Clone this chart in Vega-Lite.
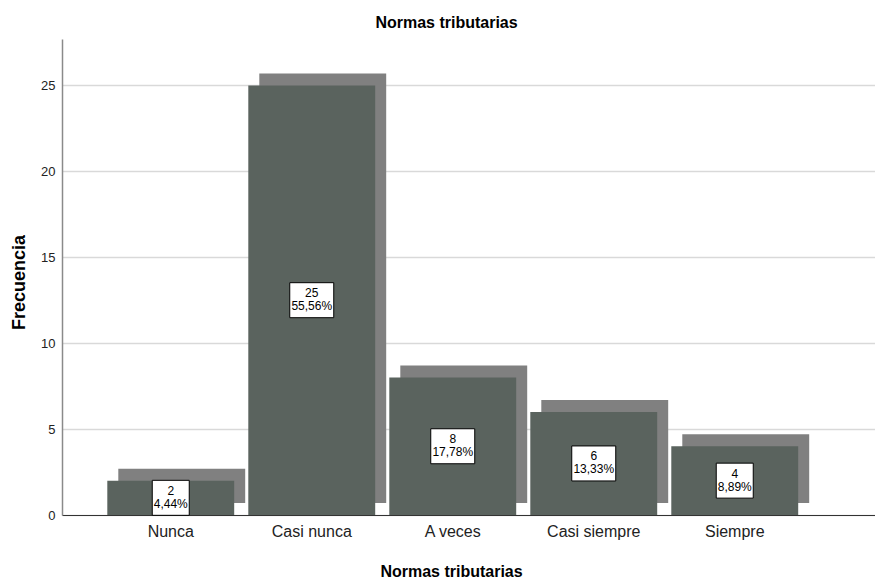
{
  "$schema": "https://vega.github.io/schema/vega-lite/v6.json",
  "width": 813,
  "height": 476,
  "autosize": {"type": "none"},
  "padding": {"left": 62, "top": 39, "right": 0, "bottom": 66},
  "background": "white",
  "config": {"view": {"stroke": null}, "font": "Liberation Sans"},
  "title": {"text": "Normas tributarias", "fontSize": 16, "fontWeight": "bold", "font": "Liberation Sans", "color": "black", "dx": -22, "offset": 8, "anchor": "middle"},
  "data": {"values": [
    {"cat": "Nunca", "n": 2, "pct": "4,44%"},
    {"cat": "Casi nunca", "n": 25, "pct": "55,56%"},
    {"cat": "A veces", "n": 8, "pct": "17,78%"},
    {"cat": "Casi siempre", "n": 6, "pct": "13,33%"},
    {"cat": "Siempre", "n": 4, "pct": "8,89%"}
  ]},
  "transform": [{"calculate": "datum.n/2", "as": "mid"}],
  "encoding": {
    "x": {
      "field": "cat", "type": "nominal",
      "sort": ["Nunca", "Casi nunca", "A veces", "Casi siempre", "Siempre"],
      "scale": {"paddingInner": 0.1, "paddingOuter": 0.433, "align": 0.371},
      "axis": {
        "title": "Normas tributarias", "titleFontSize": 16, "titleFontWeight": "bold", "titleColor": "black",
        "titleX": 389, "titleY": 56, "titleBaseline": "middle", "titleAlign": "center",
        "labelFontSize": 16, "labelColor": "#222222", "labelAngle": 0, "labelPadding": 8,
        "ticks": false, "domainColor": "#333333", "domainWidth": 1, "grid": false
      }
    }
  },
  "layer": [
    {
      "mark": {"type": "bar", "color": "#808080", "xOffset": 11, "yOffset": -12, "y2Offset": -12},
      "encoding": {
        "y": {"field": "n", "type": "quantitative", "scale": {"domain": [0, 27.7], "nice": false}, "axis": {
          "values": [0, 5, 10, 15, 20, 25], "grid": true, "gridColor": "#d9d9d9", "gridWidth": 1.5,
          "domainColor": "#8a8a8a", "domainWidth": 1.5, "ticks": false, "labelPadding": 7,
          "labelFontSize": 13, "labelColor": "#222222",
          "title": "Frecuencia", "titleFontSize": 18, "titleFontWeight": "bold", "titleColor": "black",
          "titleX": -43, "titleY": 243, "titleAngle": -90, "titleBaseline": "middle", "titleAlign": "center"
        }}
      }
    },
    {
      "mark": {"type": "bar", "color": "#5a635e"},
      "encoding": {"y": {"field": "n", "type": "quantitative"}}
    },
    {
      "mark": {"type": "point", "filled": true, "fill": "white", "stroke": "black", "strokeWidth": 1, "opacity": 1, "fillOpacity": 1, "size": 1225},
      "encoding": {
        "y": {"field": "mid", "type": "quantitative"},
        "shape": {"field": "cat", "type": "nominal", "legend": null, "scale": {
          "domain": ["Nunca", "Casi nunca", "A veces", "Casi siempre", "Siempre"],
          "range": ["M-1.057,-1H1.057V1H-1.057Z", "M-1.257,-1H1.257V1H-1.257Z", "M-1.257,-1H1.257V1H-1.257Z", "M-1.257,-1H1.257V1H-1.257Z", "M-1.057,-1H1.057V1H-1.057Z"]
        }}
      }
    },
    {
      "mark": {"type": "text", "fontSize": 12, "color": "black", "baseline": "middle", "dy": -7},
      "encoding": {"y": {"field": "mid", "type": "quantitative"}, "text": {"field": "n", "type": "quantitative"}}
    },
    {
      "mark": {"type": "text", "fontSize": 12, "color": "black", "baseline": "middle", "dy": 6},
      "encoding": {"y": {"field": "mid", "type": "quantitative"}, "text": {"field": "pct", "type": "nominal"}}
    }
  ]
}
